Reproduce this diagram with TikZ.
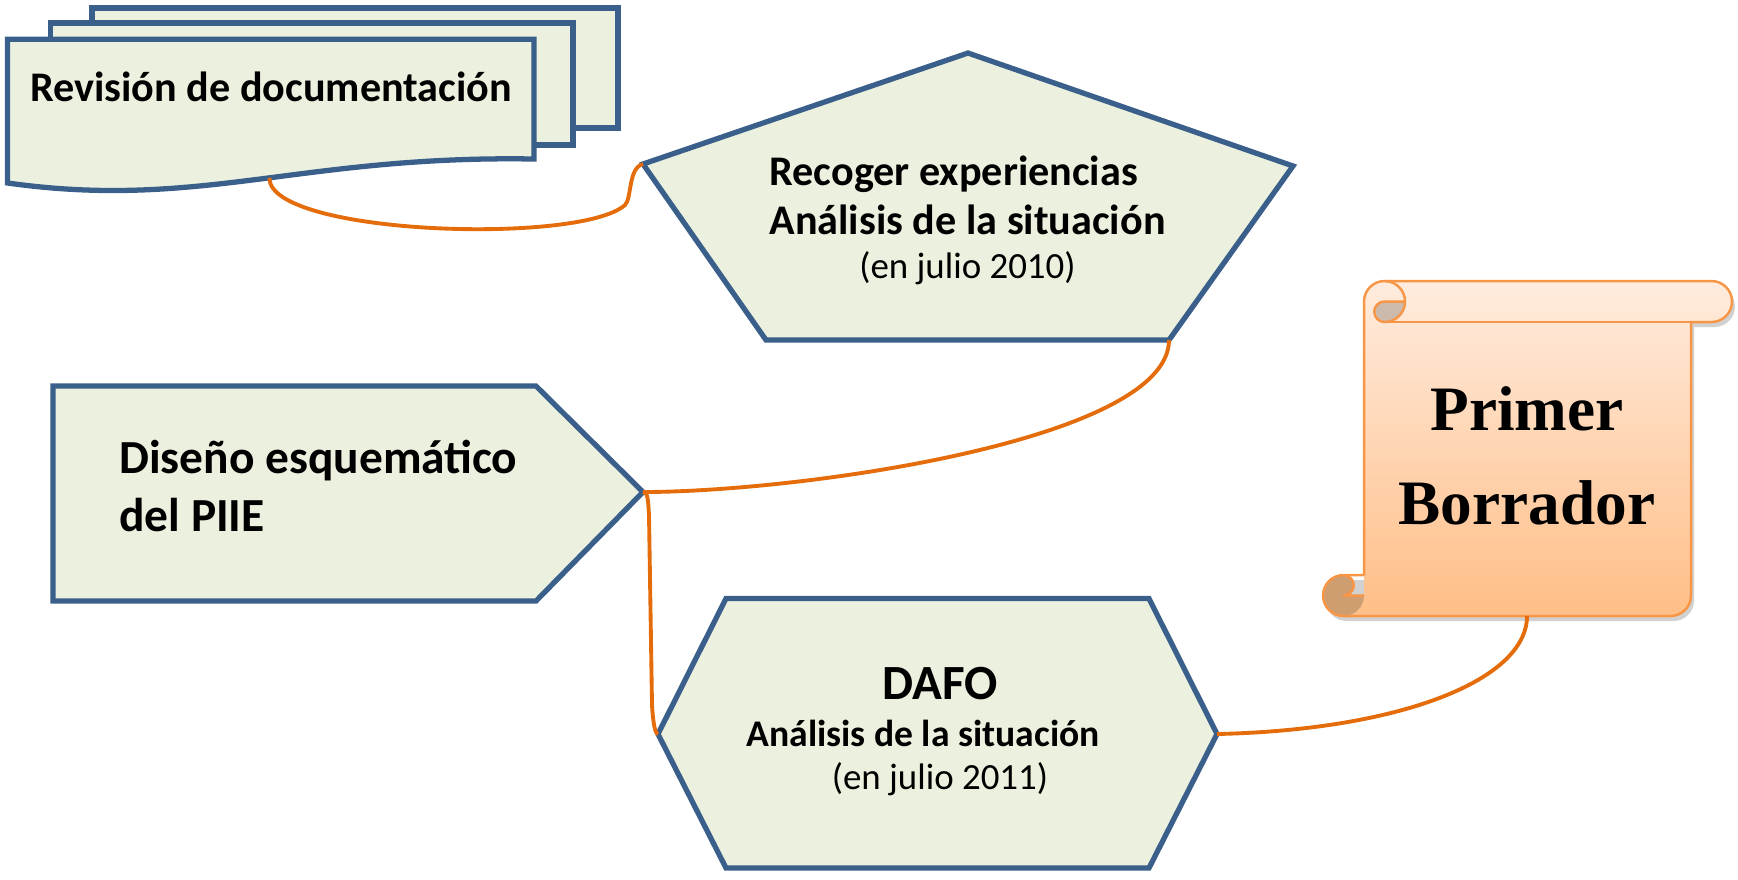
\documentclass[tikz,border=0pt]{standalone}
\usepackage{fontspec}
\setmainfont{Carlito}
\newfontfamily\scrollfont{Liberation Serif}

\definecolor{boxfill}{RGB}{235,241,222}
\definecolor{boxline}{RGB}{58,95,139}
\definecolor{linkorange}{RGB}{228,108,10}
\definecolor{scrollline}{RGB}{247,150,70}
\definecolor{scrolltop}{RGB}{255,236,222}
\definecolor{scrollbottom}{RGB}{255,190,135}
\definecolor{curltop}{RGB}{204,187,173}
\definecolor{curlbottom}{RGB}{206,157,112}

\tikzset{
    box/.style={draw=boxline, fill=boxfill, line width=1.5pt},
    link/.style={draw=linkorange, line width=1.1pt},
    boxtext/.style={inner sep=0pt, text=black},
    scrolledge/.style={draw=scrollline, line width=0.7pt, line join=round}
}

\begin{document}
\begin{tikzpicture}[x=1cm, y=-1cm]
    \useasboundingbox (0,0) rectangle (17.38,8.79);

    % Draw the stack of documents, back to front
    \draw[box] (0.92,0.08) rectangle (6.18,1.28);
    \draw[box] (0.505,0.23) rectangle (5.73,1.45);
    \draw[box] (0.076,0.393) -- (5.34,0.393) -- (5.34,1.59)
        .. controls (3.00,1.55) and (2.00,2.10) .. (0.076,1.83) coordinate[pos=0.47] (docfoot) -- cycle;
    \node[boxtext, anchor=west, font=\bfseries\fontsize{12}{14}\selectfont] (revision) at (0.295,0.87) {Revisión de documentación};

    % Draw the pentagon
    \draw[box] (9.68,0.53) -- (12.93,1.66) -- (11.69,3.40) coordinate (recogerfoot)
        -- (7.66,3.40) -- (6.43,1.64) coordinate (recogerleft) -- cycle;
    \node[boxtext, font=\bfseries\fontsize{12}{14.2}\selectfont] (recoger) at (9.675,2.22)
        {\begin{tabular}{@{}l@{}}Recoger experiencias\\Análisis de la situación\\[-1.7pt]
        \multicolumn{1}{@{}c@{}}{\mdseries\fontsize{10.5}{12.6}\selectfont (en julio 2010)}\end{tabular}};

    % Draw the home plate
    \draw[box] (0.53,3.86) -- (5.36,3.86) -- (6.43,4.92) coordinate (disenotip)
        -- (5.36,6.01) -- (0.53,6.01) -- cycle;
    \node[boxtext, anchor=west, align=left, font=\bfseries\fontsize{13.5}{16.7}\selectfont] (diseno) at (1.186,4.86) {Diseño esquemático\\del PIIE};

    % Draw the hexagon
    \draw[box] (7.26,5.985) -- (11.49,5.985) -- (12.17,7.34) coordinate (daforight)
        -- (11.49,8.68) -- (7.26,8.68) -- (6.58,7.34) coordinate (dafoleft) -- cycle;
    \node[boxtext, font=\bfseries\fontsize{14}{13.3}\selectfont] (dafo) at (9.40,7.35)
        {\begin{tabular}{@{}c@{}}DAFO\\\fontsize{10.7}{12.8}\selectfont Análisis de la situación\hspace*{0.34cm}\\[-1.1pt]
        \mdseries\fontsize{10.5}{12.6}\selectfont (en julio 2011)\end{tabular}};

    % Draw the scroll: shadow, body, curls, outline
    \begin{scope}[shift={(0.03,0.05)}]
        \fill[black, opacity=0.18] (13.64,5.75) -- (13.64,3.015) arc[start angle=180, delta angle=90, radius=0.205]
            -- (17.115,2.81) arc[start angle=270, delta angle=180, radius=0.205]
            -- (16.91,3.22) -- (16.91,5.955) arc[start angle=0, delta angle=90, radius=0.205]
            -- (13.435,6.16) arc[start angle=90, delta angle=180, radius=0.205] -- cycle;
    \end{scope}
    \shade[top color=scrolltop, bottom color=scrollbottom] (13.435,6.16) arc[start angle=90, delta angle=-90, radius=0.205]
        -- (13.64,3.015) arc[start angle=180, delta angle=90, radius=0.205]
        -- (17.115,2.81) arc[start angle=270, delta angle=180, radius=0.205]
        -- (16.91,3.22) -- (16.91,5.955) arc[start angle=0, delta angle=90, radius=0.205] -- cycle;
    \fill[curltop] (14.05,3.015) arc[start angle=0, delta angle=90, radius=0.205]
        arc[start angle=90, delta angle=180, radius=0.1025] -- cycle;
    \fill[curlbottom] (13.64,5.955) arc[start angle=0, delta angle=270, radius=0.205]
        arc[start angle=270, delta angle=180, radius=0.1025] -- cycle;
    \draw[scrolledge] (13.64,5.75) -- (13.64,3.015) arc[start angle=180, delta angle=90, radius=0.205]
        -- (17.115,2.81) arc[start angle=270, delta angle=180, radius=0.205]
        -- (16.91,3.22) -- (16.91,5.955) arc[start angle=0, delta angle=90, radius=0.205]
        -- (13.435,6.16) arc[start angle=90, delta angle=180, radius=0.205] -- cycle;
    \draw[scrolledge] (13.845,2.81) arc[start angle=270, delta angle=180, radius=0.205]
        arc[start angle=90, delta angle=180, radius=0.1025] -- (14.05,3.015);
    \draw[scrolledge] (16.91,3.22) -- (13.845,3.22);
    \draw[scrolledge] (13.435,5.75) arc[start angle=270, delta angle=180, radius=0.1025] -- (13.64,5.955);
    \coordinate (borradorfoot) at (15.27,6.16);
    \node[boxtext, align=center, font=\scrollfont\bfseries\fontsize{18}{26.7}\selectfont] (borrador) at (15.27,4.56) {Primer\\Borrador};

    % Draw the connectors between the shapes
    \draw[link] (docfoot) .. controls (2.69,2.35) and (5.80,2.45) .. (6.25,2.05)
        .. controls (6.32,1.98) and (6.28,1.68) .. (recogerleft);
    \draw[link] (recogerfoot) .. controls (11.69,4.40) and (8.00,4.92) .. (disenotip);
    \draw[link] (disenotip) .. controls (6.48,4.92) and (6.48,5.00) .. (6.49,5.15)
        -- (6.52,7.05) .. controls (6.53,7.22) and (6.55,7.34) .. (dafoleft);
    \draw[link] (daforight) .. controls (14.00,7.30) and (15.27,6.80) .. (borradorfoot);

\end{tikzpicture}
\end{document}
